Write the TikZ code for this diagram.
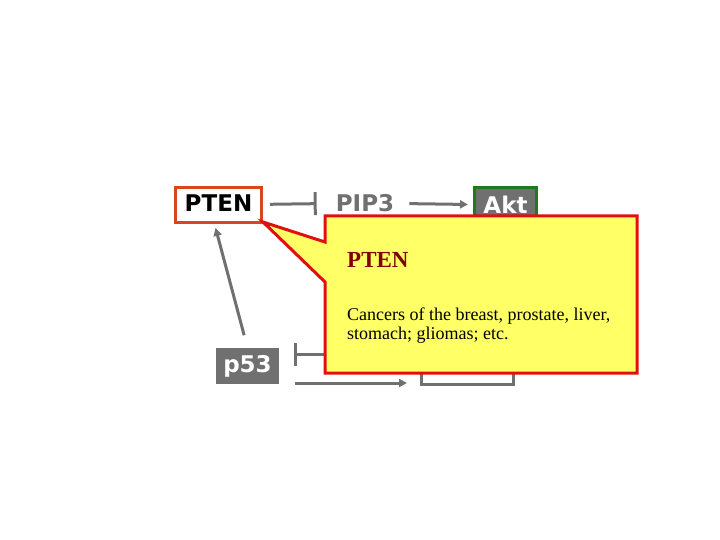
\documentclass[tikz,border=0pt]{standalone}
\usepackage{fontspec}
\setmainfont{Liberation Serif}
\setsansfont{DejaVu Sans}
\usetikzlibrary{arrows.meta}
\definecolor{pathgray}{HTML}{707070}
\definecolor{ptenred}{HTML}{D9461E}
\definecolor{aktgreen}{HTML}{1E7A1E}
\definecolor{noteyellow}{HTML}{FFFF66}
\definecolor{notered}{HTML}{E01010}
\definecolor{notetitle}{HTML}{800000}

\begin{document}
\begin{tikzpicture}[x=1pt,y=-1pt,>={Triangle[length=8pt,width=8pt]},
  gene/.style={font=\sffamily\bfseries\fontsize{23}{23}\selectfont,inner sep=0pt},
  link/.style={draw=pathgray,line width=3pt},
  inh/.style={link,-{Bar[width=23pt]}}]
  \useasboundingbox (0,0) rectangle (720,540);
  % genes
  \node[gene,draw=ptenred,line width=3pt,fill=white,minimum width=86pt,minimum height=35pt,text depth=3pt]
    (pten) at (218.5,205) {PTEN};
  \node[gene,text=pathgray] (pip) at (365,203) {PIP3};
  \node[gene,draw=aktgreen,line width=3pt,fill=pathgray,text=white,minimum width=62pt,minimum height=35pt]
    (akt) at (505.5,205) {Akt};
  \node[gene,fill=pathgray,text=white,minimum width=63pt,minimum height=36pt]
    (p53) at (247.5,366) {p53};
  \node[draw=pathgray,line width=3pt,minimum width=92pt,minimum height=37pt]
    (bax) at (467.5,366) {};
  \coordinate (hid) at (345,354);
  % links
  \draw[inh,shorten <=7pt,shorten >=19pt] (pten) -- (pip);
  \draw[link,->,shorten <=15pt,shorten >=5pt] (pip) -- (akt);
  \draw[link,->,shorten <=13pt,shorten >=4pt] (p53.north) -- ([xshift=-4pt]pten.south);
  \draw[inh] (hid) -- ([xshift=15pt,yshift=12pt]p53.east);
  \draw[link,->] ([xshift=16pt,yshift=-17pt]p53.east) -- ([xshift=-13pt,yshift=-17pt]bax.west);
  % callout
  \draw[fill=noteyellow,draw=notered,line width=3pt,line join=miter]
    (325,216) -- (637,216) -- (637,373) -- (325,373) -- (325,282)
    -- ([yshift=2pt]pten.south east) -- (325,242) -- cycle;
  \node[anchor=base west,inner sep=0pt,text=notetitle,font=\bfseries\fontsize{23}{23}\selectfont]
    (title) at (347,267) {PTEN};
  \node[anchor=base west,inner sep=0pt,align=left,font=\fontsize{18}{19}\selectfont]
    (note) at (347,339) {Cancers of the breast, prostate, liver,\\stomach; gliomas; etc.};
\end{tikzpicture}
\end{document}
